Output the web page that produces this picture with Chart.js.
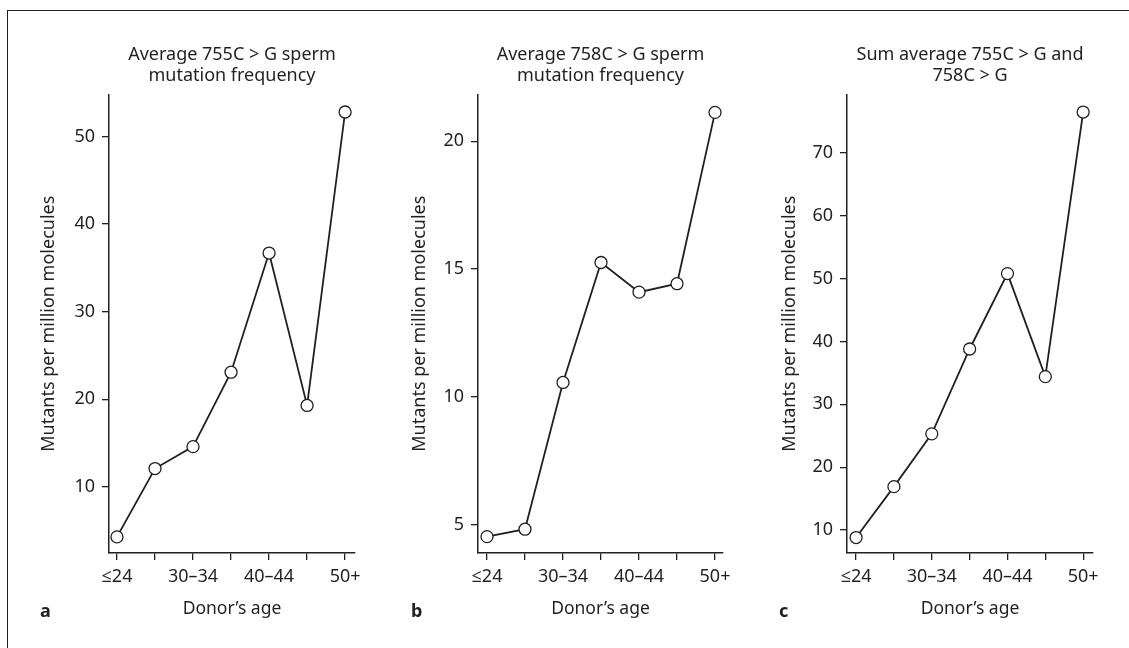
<!DOCTYPE html>
<html>
<head>
<meta charset="utf-8">
<script src="https://cdn.jsdelivr.net/npm/chart.js@4/dist/chart.umd.min.js"></script>
<style>
  html, body { margin: 0; padding: 0; background: #fff; }
  body { width: 1129px; height: 648px; position: relative; overflow: hidden; }
  #frame { position: absolute; left: 7px; top: 10px; right: -10px; bottom: -10px;
           border-left: 1.5px solid #231f20; border-top: 1.5px solid #231f20; }
  canvas { position: absolute; top: 0; }
</style>
</head>
<body>
<div id="frame"></div>
<canvas id="chartA" width="376" height="648" style="left:0px"></canvas>
<canvas id="chartB" width="374" height="648" style="left:376px"></canvas>
<canvas id="chartC" width="379" height="648" style="left:750px"></canvas>
<script>
const categories = ["≤24", "25–29", "30–34", "35–39", "40–44", "45–49", "50+"];

const values755 = [4.3, 12.1, 14.6, 23.1, 36.7, 19.3, 52.8];
const values758 = [4.54, 4.83, 10.57, 15.26, 14.1, 14.43, 21.13];
const valuesSum = [8.8, 16.9, 25.3, 38.8, 50.8, 34.4, 76.5];

const yTicks755 = [10, 20, 30, 40, 50];
const yTicks758 = [5, 10, 15, 20];
const yTicksSum = [10, 20, 30, 40, 50, 60, 70];

const ink = "#231f20";
const family = "'Noto Sans', 'Open Sans', sans-serif";

// draws the bold panel letter (a, b, c) under the axis
const panelLabel = {
    id: "panelLabel",
    afterDraw(chart, args, opts) {
        const ctx = chart.ctx;
        ctx.save();
        ctx.fillStyle = ink;
        ctx.font = "bold 18px " + family;
        ctx.textBaseline = "alphabetic";
        ctx.fillText(opts.text, opts.x, 617);
        ctx.restore();
    }
};

function makeChart(id, p) {
    const ctx = document.getElementById(id).getContext("2d");
    return new Chart(ctx, {
        type: "line",
        data: {
            datasets: [{
                data: p.values.map((v, i) => ({ x: i, y: v })),
                borderColor: ink,
                borderWidth: 1.8,
                tension: 0,
                pointRadius: 6,
                pointBackgroundColor: "#fff",
                pointBorderColor: ink,
                pointBorderWidth: 1.3,
                clip: false
            }]
        },
        options: {
            responsive: false,
            animation: false,
            devicePixelRatio: 1,
            layout: { padding: { top: 10, left: p.padLeft, right: p.padRight, bottom: 24 } },
            plugins: {
                legend: { display: false },
                tooltip: { enabled: false },
                title: {
                    display: true,
                    text: p.title,
                    fullSize: false,
                    color: ink,
                    font: { family: family, size: 18, weight: "normal", lineHeight: 1.18 },
                    padding: { top: 34, bottom: 8 }
                },
                panelLabel: { text: p.letter, x: p.letterX }
            },
            scales: {
                x: {
                    type: "linear",
                    min: p.xMin,
                    max: p.xMax,
                    afterBuildTicks: s => { s.ticks = categories.map((c, i) => ({ value: i })); },
                    afterFit: s => { s.height = 71; },
                    grid: { drawOnChartArea: false, drawTicks: true, tickLength: 7, color: ink, lineWidth: 1.3 },
                    border: { display: true, color: ink, width: 1.5 },
                    ticks: {
                        padding: 6, color: ink, autoSkip: false, maxRotation: 0,
                        font: { family: family, size: 18 },
                        callback: v => (v % 2 === 0 ? categories[v] : "")
                    },
                    title: {
                        display: true, text: "Donor’s age", color: ink,
                        font: { family: family, size: 17.5 },
                        padding: { top: 0, bottom: 4 }
                    }
                },
                y: {
                    min: p.yMin,
                    max: p.yMax,
                    afterBuildTicks: s => { s.ticks = p.yTicks.map(v => ({ value: v })); },
                    afterFit: s => { s.width = p.yWidth; },
                    grid: { drawOnChartArea: false, drawTicks: true, tickLength: 7, color: ink, lineWidth: 1.3 },
                    border: { display: true, color: ink, width: 1.5 },
                    ticks: { padding: 7, color: ink, font: { family: family, size: 18 } },
                    title: {
                        display: true, text: "Mutants per million molecules", color: ink,
                        font: { family: family, size: 18 },
                        padding: { top: 8, bottom: 0 }
                    }
                }
            }
        },
        plugins: [panelLabel]
    });
}

makeChart("chartA", {
    values: values755, yTicks: yTicks755,
    title: ["Average 755C > G sperm", "mutation frequency"],
    yMin: 2.46, yMax: 54.8, xMin: -0.21, xMax: 6.26,
    padLeft: 30, yWidth: 79, padRight: 21,
    letter: "a", letterX: 40
});

makeChart("chartB", {
    values: values758, yTicks: yTicks758,
    title: ["Average 758C > G sperm", "mutation frequency"],
    yMin: 3.9, yMax: 21.83, xMin: -0.237, xMax: 6.21,
    padLeft: 25, yWidth: 77, padRight: 27,
    letter: "b", letterX: 35
});

makeChart("chartC", {
    values: valuesSum, yTicks: yTicksSum,
    title: ["Sum average 755C > G and", "758C > G"],
    yMin: 6.34, yMax: 79.3, xMin: -0.24, xMax: 6.26,
    padLeft: 21, yWidth: 76, padRight: 36,
    letter: "c", letterX: 29
});
</script>
</body>
</html>
